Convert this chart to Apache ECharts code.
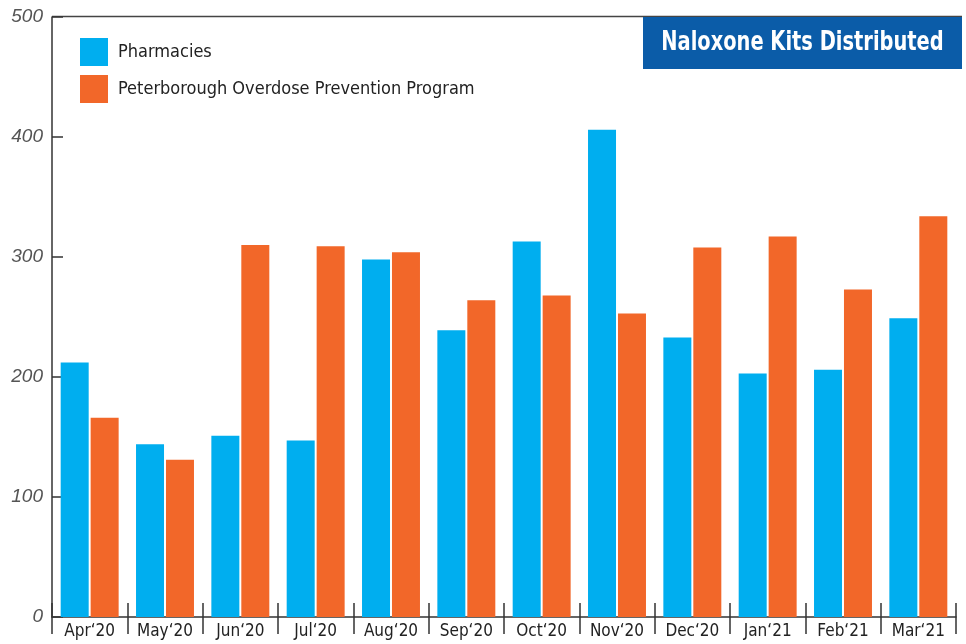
<!DOCTYPE html>
<html>
<head>
<meta charset="utf-8">
<script src="https://cdn.jsdelivr.net/npm/echarts@6/dist/echarts.min.js"></script>
<style>html,body{margin:0;padding:0;background:#fff;}#c{width:966px;height:644px;}</style>
</head>
<body>
<div id="c"></div>
<script>
var categories = ["Apr\u201820","May\u201820","Jun\u201820","Jul\u201820","Aug\u201820","Sep\u201820","Oct\u201820","Nov\u201820","Dec\u201820","Jan\u201821","Feb\u201821","Mar\u201821"];
var pharmacies = [212,144,151,147,298,239,313,406,233,203,206,249];
var popp = [166,131,310,309,304,264,268,253,308,317,273,334];
var seriesNames = ["Pharmacies","Peterborough Overdose Prevention Program"];
var chartTitle = "Naloxone Kits Distributed";

var narrow = "'Liberation Sans Narrow','DejaVu Sans Condensed',sans-serif";
var chart = echarts.init(document.getElementById('c'));
chart.setOption({
  animation: false,
  backgroundColor: '#fff',
  grid: {left: 52, right: 10, top: 17, bottom: 27},
  legend: {
    orient: 'vertical', left: 80, top: 38, padding: 0,
    itemWidth: 28, itemHeight: 28, itemGap: 9,
    icon: 'rect',
    textStyle: {fontFamily: narrow, fontSize: 18, color: '#222', padding: [0,0,0,5]},
    data: seriesNames
  },
  xAxis: [{
    type: 'category', data: categories,
    axisLine: {lineStyle: {color: '#333', width: 1.5}},
    axisTick: {show: true, length: 17, lineStyle: {color: '#333', width: 1.5}},
    axisLabel: {fontFamily: narrow, fontSize: 17, color: '#222', margin: 6, interval: 0}
  },{
    type: 'category', data: categories, position: 'bottom', gridIndex: 0,
    axisLine: {show: false},
    axisTick: {show: true, inside: true, length: 14, lineStyle: {color: '#333', width: 1.5}},
    axisLabel: {show: false}
  }],
  yAxis: {
    type: 'value', min: 0, max: 500, interval: 100,
    axisLine: {show: true, lineStyle: {color: '#333', width: 1.5}},
    axisTick: {show: true, inside: true, length: 11, lineStyle: {color: '#333', width: 1.5}},
    splitLine: {show: false},
    axisLabel: {fontFamily: "'Liberation Sans',sans-serif", fontStyle: 'italic', fontSize: 19, color: '#555', margin: 9}
  },
  series: [{
    name: seriesNames[0], type: 'bar', data: pharmacies, barWidth: 28, barGap: '7%',
    itemStyle: {color: '#00AEEF'}
  },{
    name: seriesNames[1], type: 'bar', data: popp, barWidth: 28, barGap: '7%',
    itemStyle: {color: '#F26729'}
  }],
  graphic: [{
    type: 'line', shape: {x1: 52, y1: 16.5, x2: 962, y2: 16.5},
    style: {stroke: '#444', lineWidth: 1.5}, silent: true
  },{
    type: 'rect', shape: {x: 643, y: 17, width: 319, height: 52},
    style: {fill: '#0B5CA8'}, silent: true
  },{
    type: 'text', x: 802.5, y: 43, scaleX: 0.8,
    style: {text: chartTitle, fill: '#fff', font: "bold 27px " + narrow, align: 'center', verticalAlign: 'middle'},
    silent: true
  }]
});
</script>
</body>
</html>
